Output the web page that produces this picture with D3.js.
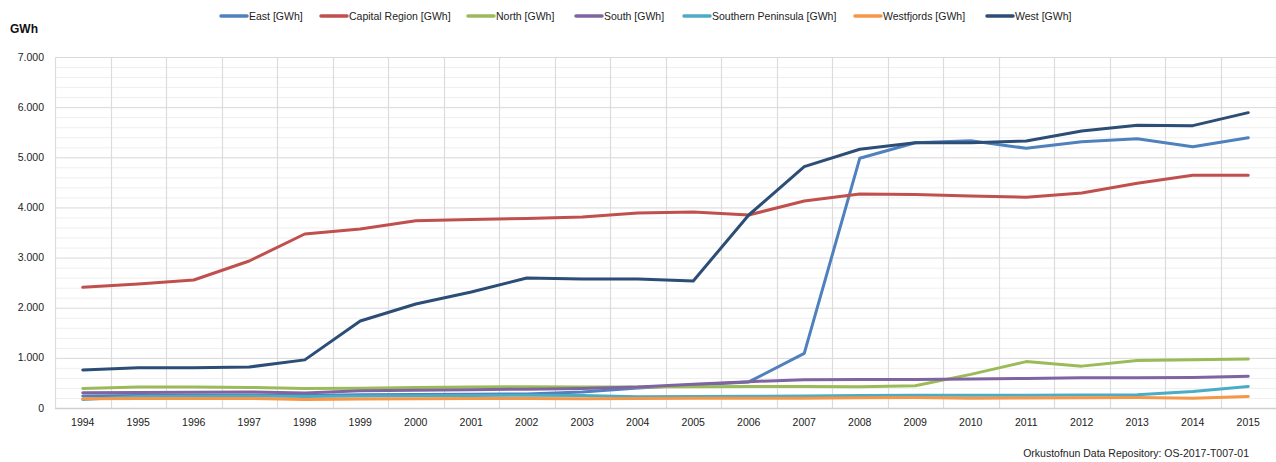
<!DOCTYPE html>
<html><head><meta charset="utf-8">
<script src="https://cdn.jsdelivr.net/npm/d3@7"></script>
<style>body{margin:0;background:#fff}svg{display:block;font-family:"Liberation Sans",Arial,sans-serif}</style>
</head><body><svg id="c" width="1276" height="462"></svg>
<script>
const years = [1994,1995,1996,1997,1998,1999,2000,2001,2002,2003,2004,2005,2006,2007,2008,2009,2010,2011,2012,2013,2014,2015];
const seriesNames = ["East [GWh]","Capital Region [GWh]","North [GWh]","South [GWh]","Southern Peninsula [GWh]","Westfjords [GWh]","West [GWh]"];
const seriesColors = ["#4F81BD","#C0504D","#9BBB59","#8064A2","#4BACC6","#F79646","#2C4D75"];
const east = [240,250,255,260,250,265,270,275,280,320,400,460,520,1090,4980,5290,5330,5180,5310,5370,5210,5390];
const capital = [2407,2475,2553,2932,3470,3570,3735,3760,3780,3810,3890,3910,3849,4129,4268,4258,4228,4202,4288,4481,4641,4641];
const north = [390,418,420,410,390,395,410,420,425,420,420,425,430,430,425,445,670,925,835,945,960,975];
const south = [306,310,315,320,300,345,355,365,375,390,420,475,525,565,570,570,578,590,605,605,610,635];
const southernPeninsula = [170,230,235,240,230,240,245,250,255,250,225,230,235,240,250,255,255,255,258,262,330,430];
const westfjords = [185,190,190,190,170,180,185,190,190,185,190,195,195,195,205,210,195,200,205,210,195,230];
const west = [758,805,805,818,960,1735,2074,2313,2593,2573,2573,2533,3849,4814,5160,5292,5292,5325,5524,5638,5631,5890];
const yTicks = [0,1000,2000,3000,4000,5000,6000,7000];
const yTickLabels = ["0","1.000","2.000","3.000","4.000","5.000","6.000","7.000"];
const allSeries = [east,capital,north,south,southernPeninsula,westfjords,west];

const svg = d3.select("#c");
const L = 55, R = 1276, T = 57, B = 408;
const x = d3.scalePoint().domain(years).range([L, R]).padding(0.5);
const y = d3.scaleLinear().domain([0,7000]).range([B, T]);

// minor gridlines
svg.append("g").selectAll("line").data(d3.range(200,7000,200).filter(v=>v%1000!==0)).join("line")
  .attr("x1",L).attr("x2",R).attr("y1",d=>y(d)+0.5).attr("y2",d=>y(d)+0.5)
  .attr("stroke","#efefef").attr("stroke-width",1);
// major gridlines
svg.append("g").selectAll("line").data(yTicks.slice(1)).join("line")
  .attr("x1",L).attr("x2",R).attr("y1",d=>y(d)+0.5).attr("y2",d=>y(d)+0.5)
  .attr("stroke","#d9d9d9").attr("stroke-width",1);
// vertical gridlines at category boundaries
const step = x.step();
svg.append("g").selectAll("line").data(d3.range(years.length+1)).join("line")
  .attr("x1",i=>Math.round(L+i*step)+0.5).attr("x2",i=>Math.round(L+i*step)+0.5)
  .attr("y1",T).attr("y2",B)
  .attr("stroke","#dcdcdc").attr("stroke-width",1.2);
// bottom axis line
svg.append("line").attr("x1",L).attr("x2",R).attr("y1",B+0.5).attr("y2",B+0.5).attr("stroke","#d0d0d0").attr("stroke-width",1.5);

// y labels
svg.append("g").selectAll("text").data(yTicks).join("text")
  .attr("x",44).attr("y",d=>y(d)+3.5).attr("text-anchor","end")
  .attr("font-size","10.5px").attr("fill","#222").text((d,i)=>yTickLabels[i]);
// x labels
svg.append("g").selectAll("text").data(years).join("text")
  .attr("x",d=>x(d)).attr("y",426).attr("text-anchor","middle")
  .attr("font-size","10.5px").attr("fill","#222").text(d=>d);

// lines
const line = d3.line().x((d,i)=>x(years[i])).y(d=>y(d));
svg.append("g").selectAll("path").data(allSeries).join("path")
  .attr("d",line).attr("fill","none")
  .attr("stroke",(d,i)=>seriesColors[i]).attr("stroke-width",3)
  .attr("stroke-linejoin","round").attr("stroke-linecap","round");

// legend
const legendX = [221,321,468,576,684,855,987];
const lg = svg.append("g").selectAll("g").data(seriesNames).join("g")
  .attr("transform",(d,i)=>`translate(${legendX[i]},16)`);
lg.append("line").attr("x1",0).attr("x2",26).attr("y1",0).attr("y2",0)
  .attr("stroke",(d,i)=>seriesColors[i]).attr("stroke-width",3.5).attr("stroke-linecap","round");
lg.append("text").attr("x",28).attr("y",3.8).attr("font-size","10.5px").attr("fill","#222").text(d=>d);

// axis title
svg.append("text").attr("x",10).attr("y",33).attr("font-size","12px").attr("font-weight","bold").attr("fill","#111").text("GWh");
// footer
svg.append("text").attr("x",1249).attr("y",457).attr("text-anchor","end").attr("font-size","10.5px").attr("fill","#222")
  .text("Orkustofnun Data Repository: OS-2017-T007-01");
</script></body></html>
